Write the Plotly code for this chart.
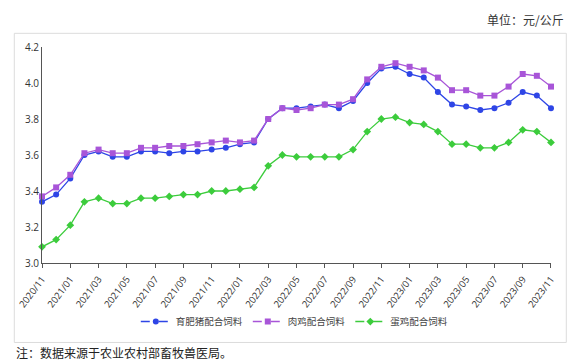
import plotly.graph_objects as go

months = []
y0, m0 = 2020, 11
for i in range(37):
    y = y0 + (m0 - 1 + i) // 12
    m = (m0 - 1 + i) % 12 + 1
    months.append(f"{y}/{m:02d}")

pig = [3.34, 3.38, 3.47, 3.60, 3.62, 3.59, 3.59, 3.62, 3.62, 3.61, 3.62, 3.62, 3.63,
       3.64, 3.66, 3.67, 3.80, 3.86, 3.86, 3.87, 3.88, 3.86, 3.90, 4.00, 4.08, 4.09,
       4.05, 4.03, 3.95, 3.88, 3.87, 3.85, 3.86, 3.89, 3.95, 3.93, 3.86]
broiler = [3.37, 3.42, 3.49, 3.61, 3.63, 3.61, 3.61, 3.64, 3.64, 3.65, 3.65, 3.66, 3.67,
           3.68, 3.67, 3.68, 3.80, 3.86, 3.85, 3.86, 3.88, 3.88, 3.91, 4.02, 4.09, 4.11,
           4.09, 4.07, 4.03, 3.96, 3.96, 3.93, 3.93, 3.98, 4.05, 4.04, 3.98]
layer = [3.09, 3.13, 3.21, 3.34, 3.36, 3.33, 3.33, 3.36, 3.36, 3.37, 3.38, 3.38, 3.40,
         3.40, 3.41, 3.42, 3.54, 3.60, 3.59, 3.59, 3.59, 3.59, 3.63, 3.73, 3.80, 3.81,
         3.78, 3.77, 3.73, 3.66, 3.66, 3.64, 3.64, 3.67, 3.74, 3.73, 3.67]
tick_labels = months[::2]
y_ticks = [3.0, 3.2, 3.4, 3.6, 3.8, 4.0, 4.2]

series = [
    ("育肥猪配合饲料", pig, "#2e45e6", "circle", 6),
    ("肉鸡配合饲料", broiler, "#a855d8", "square", 6),
    ("蛋鸡配合饲料", layer, "#3ccc3c", "diamond", 6),
]

fig = go.Figure()
for name, vals, color, sym, size in series:
    fig.add_trace(go.Scatter(
        x=months, y=vals, mode="lines+markers", name=name, showlegend=False,
        line=dict(color=color, width=1.3), marker=dict(color=color, symbol=sym, size=size),
        cliponaxis=False))
for name, vals, color, sym, size in series:
    fig.add_trace(go.Scatter(
        x=[None], y=[None], mode="lines+markers", name=name, showlegend=True,
        line=dict(color=color, width=1.5, dash="dash"), marker=dict(color=color, symbol=sym, size=6)))

L, R, T, B = 41.7, 550.7, 46.7, 263.3
W, H = R - L, B - T

fig.update_layout(
    width=583, height=361,
    margin=dict(l=L, r=583 - R, t=T, b=361 - B),
    plot_bgcolor="white", paper_bgcolor="white",
    font=dict(family="Open Sans, Noto Sans CJK SC", size=10, color="#333"),
    legend=dict(orientation="h", x=(294 - L) / W, xanchor="center", y=(B - 322) / H, yanchor="middle",
                font=dict(size=9.5, color="#444", family="Noto Sans CJK SC"), itemwidth=30,
                tracegroupgap=0, bgcolor="rgba(0,0,0,0)"),
    xaxis=dict(type="category", range=[-0.001, 36.001], tickmode="array", tickvals=tick_labels, ticktext=tick_labels,
               tickangle=-53, showline=True, linecolor="#555", linewidth=1, ticks="outside", ticklen=4,
               tickcolor="#555", showgrid=False, zeroline=False, tickfont=dict(size=9.5, color="#333"),
               ticklabeloverflow="allow", ticklabelstandoff=2),
    yaxis=dict(range=[3.0, 4.2], tickvals=y_ticks, ticktext=[f"{v:.1f}" for v in y_ticks],
               showline=True, linecolor="#555", linewidth=1, ticks="", showgrid=False, zeroline=False,
               tickfont=dict(size=10, color="#333")),
    shapes=[dict(type="rect", xref="paper", yref="paper",
                 x0=(14 - L) / W, x1=(566 - L) / W, y0=(B - 343) / H, y1=(B - 33) / H,
                 line=dict(color="#dcdcdc", width=1), fillcolor="rgba(0,0,0,0)", layer="below")],
    annotations=[
        dict(text="单位：元/公斤", xref="paper", yref="paper", x=(566 - L) / W, y=(B - 19) / H,
             xanchor="right", yanchor="middle", showarrow=False,
             font=dict(size=12, color="#333", family="Noto Sans CJK SC")),
        dict(text="注：数据来源于农业农村部畜牧兽医局。", xref="paper", yref="paper", x=(14 - L) / W,
             y=(B - 353) / H, xanchor="left", yanchor="middle", showarrow=False,
             font=dict(size=12, color="#222", family="Noto Sans CJK SC")),
    ],
)

fig.write_html("out.html")
